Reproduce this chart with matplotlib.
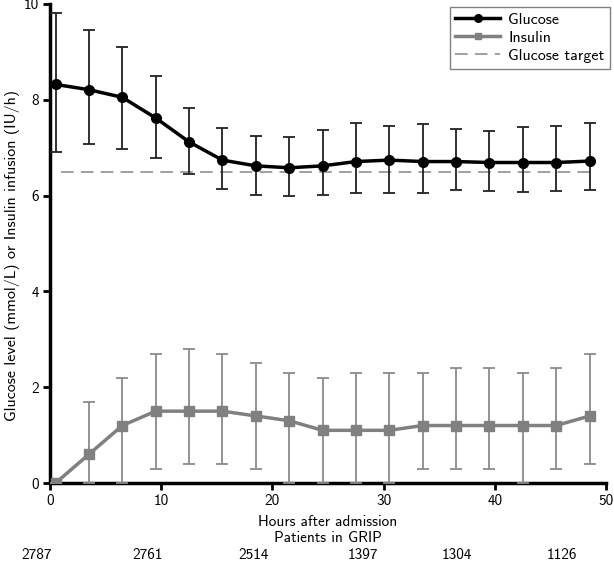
import numpy as np
import matplotlib
matplotlib.use('Agg')
import matplotlib.pyplot as plt
from matplotlib import transforms
from matplotlib.lines import Line2D

# hours after admission (3 hourly)
hours = [0.5, 3.5, 6.5, 9.5, 12.5, 15.5, 18.5, 21.5, 24.5, 27.5, 30.5, 33.5, 36.5, 39.5, 42.5, 45.5, 48.5]

glucose = [8.32, 8.21, 8.05, 7.62, 7.12, 6.74, 6.62, 6.58, 6.62, 6.71, 6.74, 6.71, 6.71, 6.69, 6.69, 6.69, 6.72]
glucose_lo = [6.91, 7.07, 6.97, 6.78, 6.46, 6.14, 6.02, 5.99, 6.01, 6.06, 6.06, 6.05, 6.12, 6.10, 6.07, 6.10, 6.12]
glucose_hi = [9.81, 9.46, 9.11, 8.50, 7.82, 7.41, 7.24, 7.22, 7.37, 7.51, 7.45, 7.49, 7.39, 7.34, 7.43, 7.45, 7.51]

insulin = [0.0, 0.6, 1.2, 1.5, 1.5, 1.5, 1.4, 1.3, 1.1, 1.1, 1.1, 1.2, 1.2, 1.2, 1.2, 1.2, 1.4]
insulin_lo = [0.0, 0.0, 0.0, 0.3, 0.4, 0.4, 0.3, 0.0, 0.0, 0.0, 0.0, 0.3, 0.3, 0.3, 0.0, 0.3, 0.4]
insulin_hi = [0.0, 1.7, 2.2, 2.7, 2.8, 2.7, 2.5, 2.3, 2.2, 2.3, 2.3, 2.3, 2.4, 2.4, 2.3, 2.4, 2.7]

target = 6.5
target_span = [1, 49]

patients = ['2787', '2761', '2514', '1397', '1304', '1126']
patients_pos = [-1.2, 8.8, 18.3, 28.1, 36.6, 46.0]

plt.rcParams['font.family'] = ['cmss10', 'DejaVu Sans']
plt.rcParams['font.size'] = 11
plt.rcParams['axes.unicode_minus'] = False

fig = plt.figure(figsize=(6.14, 5.61), dpi=100)
ax = fig.add_axes([0.0814, 0.139, 0.906, 0.854])

g = np.array(glucose)
gerr = [g - np.array(glucose_lo), np.array(glucose_hi) - g]
ins = np.array(insulin)
ierr = [ins - np.array(insulin_lo), np.array(insulin_hi) - ins]

gcol = 'black'
icol = '#808080'
tcol = '#999999'

ax.errorbar(hours, glucose, yerr=gerr, color=gcol, lw=2.5, marker='o', ms=7,
            ecolor='#222222', elinewidth=1.3, capsize=4, capthick=1.3, zorder=4)
ax.errorbar(hours, insulin, yerr=ierr, color=icol, lw=2.5, marker='s', ms=6.5,
            ecolor='#8a8a8a', elinewidth=1.3, capsize=4, capthick=1.3, zorder=3)
ax.plot(target_span, [target, target], color=tcol, lw=1.3, ls=(0, (7, 4)), zorder=2)

ax.set_xlim(0, 50)
ax.set_ylim(0, 10)
ax.set_xticks(range(0, 51, 10))
ax.set_yticks(range(0, 11, 2))
for s in ['top', 'right']:
    ax.spines[s].set_visible(False)
for s in ['left', 'bottom']:
    ax.spines[s].set_linewidth(2.5)
ax.tick_params(direction='out', length=5, width=2, labelsize=11, pad=3)

ax.set_xlabel('Hours after admission\nPatients in GRIP', labelpad=5, linespacing=1.15)
ax.set_ylabel('Glucose level (mmol/L) or Insulin infusion (IU/h)', fontsize=11.5, va='center')
ax.yaxis.set_label_coords(-0.068, 0.474)

trans = transforms.blended_transform_factory(ax.transData, fig.transFigure)
for p, x in zip(patients, patients_pos):
    ax.text(x, 6 / 561, p, transform=trans, ha='center', va='center', fontsize=11, clip_on=False)

handles = [
    Line2D([], [], color=gcol, lw=2.5, marker='o', ms=5.5),
    Line2D([], [], color=icol, lw=2.5, marker='s', ms=5),
    Line2D([], [], color=tcol, lw=1.3, ls=(0, (7, 4))),
]
labels = ['Glucose', 'Insulin', 'Glucose target']
leg = ax.legend(handles, labels, loc='upper right', fancybox=False, edgecolor='#808080', fontsize=11.5,
                handlelength=2.8, handletextpad=0.5, borderpad=0.35, labelspacing=0.25, framealpha=1,
                bbox_to_anchor=(1.007, 0.994), borderaxespad=0)
leg.get_frame().set_linewidth(1.0)

fig.savefig('out.png', dpi=100)
